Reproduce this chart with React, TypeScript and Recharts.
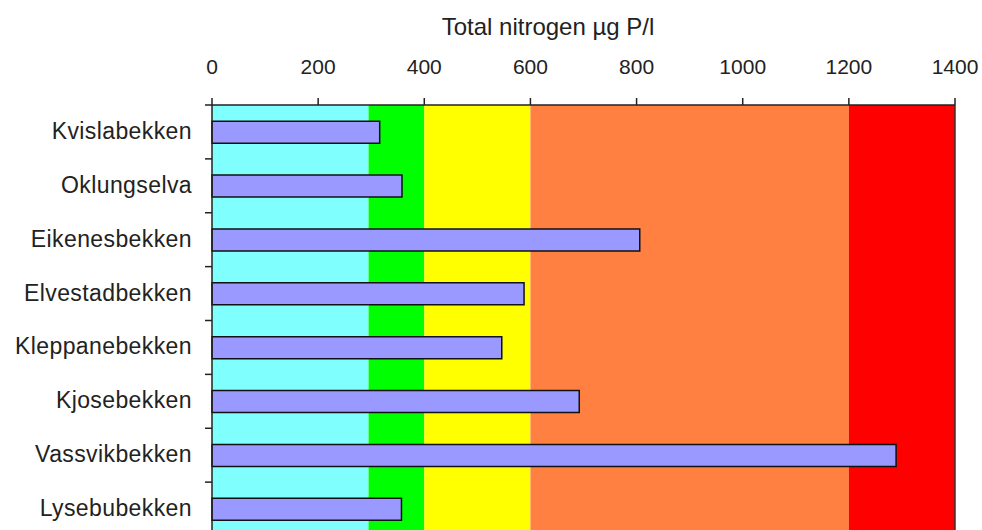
import React from 'react';
import { BarChart, Bar, XAxis, YAxis, ReferenceArea, ReferenceLine } from 'recharts';

const categories = ['Kvislabekken', 'Oklungselva', 'Eikenesbekken', 'Elvestadbekken', 'Kleppanebekken', 'Kjosebekken', 'Vassvikbekken', 'Lysebubekken'];
const values = [316, 358, 806, 588, 546, 692, 1289, 357];
const xTicks = [0, 200, 400, 600, 800, 1000, 1200, 1400];
const classBounds = [0, 295, 400, 600, 1200, 1400];
const classColors = ['#80FFFF', '#00FF00', '#FFFF00', '#FF8040', '#FF0000'];
const title = 'Total nitrogen µg P/l';

const data = categories.map((name, i) => ({ name, value: values[i] }));

const FONT = '"Liberation Sans", Arial, sans-serif';

const CatTick = (props: any) => {
  const { x, y, payload } = props;
  const off = payload && payload.offset != null ? payload.offset : 27;
  return (
    <g>
      <text x={x} y={y + 7} textAnchor="end" fontFamily={FONT} fontSize={23} fill="#222" letterSpacing={0.4}>
        {payload.value}
      </text>
      <line x1={x + 13} x2={x + 20} y1={y - off} y2={y - off} stroke="#222" strokeWidth={1.5} />
    </g>
  );
};

export default function App() {
  return (
    <div style={{ position: 'absolute', left: 0, top: 0, width: 982, height: 560, background: '#fff' }}>
      <div
        style={{
          position: 'absolute',
          left: 348,
          top: 15,
          width: 400,
          textAlign: 'center',
          fontFamily: FONT,
          fontSize: 24,
          lineHeight: '24px',
          color: '#222',
          whiteSpace: 'nowrap',
        }}
      >
        {title}
      </div>
      <BarChart
        layout="vertical"
        width={982}
        height={560}
        data={data}
        margin={{ top: 0, right: 27, bottom: 24, left: 0 }}
        barCategoryGap="30%"
      >
        {classColors.map((c, i) => (
          <ReferenceArea
            key={c}
            x1={classBounds[i]}
            x2={classBounds[i + 1]}
            fill={c}
            fillOpacity={1}
            stroke="none"
            ifOverflow="extendDomain"
          />
        ))}
        <ReferenceLine x={1400} stroke="#333" strokeWidth={1.5} />
        <XAxis
          type="number"
          orientation="top"
          domain={[0, 1400]}
          ticks={xTicks}
          height={105}
          tickSize={7}
          tickMargin={24}
          interval={0}
          axisLine={{ stroke: '#222', strokeWidth: 1.5 }}
          tickLine={{ stroke: '#222', strokeWidth: 1.5 }}
          tick={{ fontSize: 21, fill: '#222', fontFamily: FONT }}
        />
        <YAxis
          type="category"
          dataKey="name"
          width={212}
          interval={0}
          tickLine={false}
          tickSize={0}
          tickMargin={20}
          axisLine={{ stroke: '#222', strokeWidth: 1.5 }}
          tick={<CatTick />}
        />
        <Bar dataKey="value" fill="#9999FF" stroke="#111" strokeWidth={1.5} isAnimationActive={false} />
      </BarChart>
    </div>
  );
}
